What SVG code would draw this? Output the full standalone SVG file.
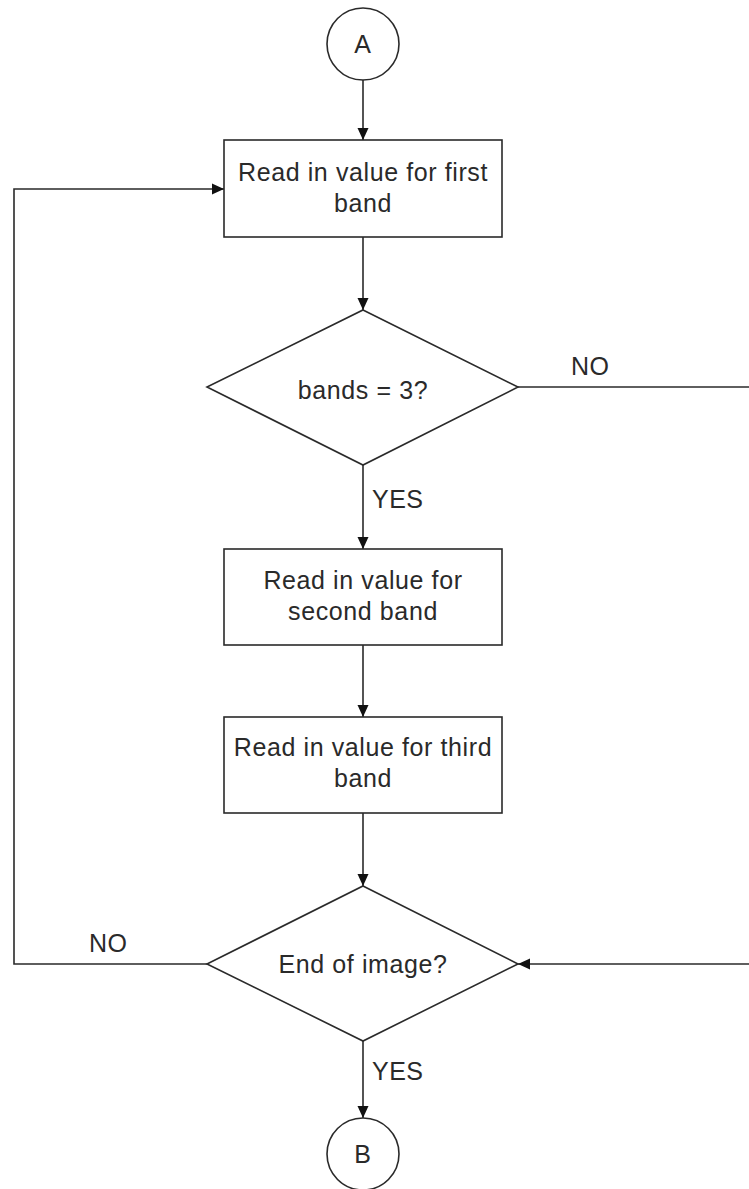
<svg xmlns="http://www.w3.org/2000/svg" width="749" height="1189" viewBox="0 0 749 1189">
<style>
.s{fill:#fff;stroke:#2a2a2a;stroke-width:1.6}
.c{fill:none;stroke:#2a2a2a;stroke-width:1.6}
.t{font-family:"Liberation Sans",Arial,sans-serif;font-size:25px;letter-spacing:0.6px;fill:#2a2a2a;text-anchor:middle}
.l{font-family:"Liberation Sans",Arial,sans-serif;font-size:25px;letter-spacing:0.5px;fill:#2a2a2a}
</style>
<defs>
<marker id="ah" markerWidth="14" markerHeight="14" refX="12" refY="7" orient="auto" markerUnits="userSpaceOnUse">
<path d="M0,1.5 L12,7 L0,12.5 Z" fill="#111"/>
</marker>
</defs>
<g id="connectors">
<line class="c" x1="363" y1="80" x2="363" y2="140" marker-end="url(#ah)"/>
<line class="c" x1="363" y1="237" x2="363" y2="310" marker-end="url(#ah)"/>
<line class="c" x1="363" y1="465" x2="363" y2="549" marker-end="url(#ah)"/>
<line class="c" x1="363" y1="645" x2="363" y2="717" marker-end="url(#ah)"/>
<line class="c" x1="363" y1="813" x2="363" y2="886" marker-end="url(#ah)"/>
<line class="c" x1="363" y1="1041" x2="363" y2="1118" marker-end="url(#ah)"/>
<line class="c" x1="518" y1="387" x2="749" y2="387"/>
<line class="c" x1="749" y1="964" x2="518" y2="964" marker-end="url(#ah)"/>
<polyline class="c" points="207,964 14,964 14,189 224,189" marker-end="url(#ah)"/>
<text class="l" x="571" y="375">NO</text>
<text class="l" x="372" y="508">YES</text>
<text class="l" x="89" y="952">NO</text>
<text class="l" x="372" y="1080">YES</text>
</g>
<g id="A">
<circle class="s" cx="363" cy="44" r="36"/>
<text class="t" x="363" y="53">A</text>
</g>
<g id="box1">
<rect class="s" x="224" y="140" width="278" height="97"/>
<text class="t" x="363" y="181">Read in value for first</text>
<text class="t" x="363" y="212">band</text>
</g>
<g id="dec1">
<polygon class="s" points="363,310 518,387 363,465 207,387"/>
<text class="t" x="363" y="399">bands = 3?</text>
</g>
<g id="box2">
<rect class="s" x="224" y="549" width="278" height="96"/>
<text class="t" x="363" y="589">Read in value for</text>
<text class="t" x="363" y="620">second band</text>
</g>
<g id="box3">
<rect class="s" x="224" y="717" width="278" height="96"/>
<text class="t" x="363" y="756">Read in value for third</text>
<text class="t" x="363" y="787">band</text>
</g>
<g id="dec2">
<polygon class="s" points="363,886 518,964 363,1041 207,964"/>
<text class="t" x="363" y="973">End of image?</text>
</g>
<g id="B">
<circle class="s" cx="363" cy="1154" r="36"/>
<text class="t" x="363" y="1163">B</text>
</g>
</svg>
